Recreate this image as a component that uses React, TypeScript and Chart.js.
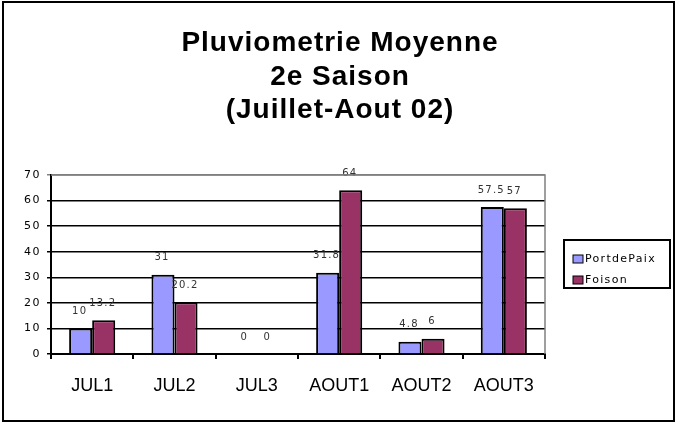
import React, { useEffect, useRef } from "react";
import { Chart, registerables } from "chart.js";

Chart.register(...registerables);

const categories = ["JUL1", "JUL2", "JUL3", "AOUT1", "AOUT2", "AOUT3"];
const portDePaix = [10, 31, 0, 31.8, 4.8, 57.5];
const foison = [13.2, 20.2, 0, 64, 6, 57];
const seriesNames = ["PortdePaix", "Foison"];
const seriesColors = ["#9999FF", "#993366"];
const titleLines = ["Pluviometrie Moyenne", "2e Saison", "(Juillet-Aout 02)"];
const yMax = 70;
const yStep = 10;

const customPlugin = {
  id: "custom",
  beforeDraw(chart: any) {
    const ctx = chart.ctx;
    ctx.save();
    ctx.fillStyle = "#fff";
    ctx.fillRect(0, 0, chart.width, chart.height);
    ctx.restore();
    (ctx as any).letterSpacing = "1.5px";
  },
  beforeDatasetsDraw(chart: any) {
    (chart.ctx as any).letterSpacing = "0px";
  },
  afterDatasetsDraw(chart: any) {
    const ctx = chart.ctx;
    ctx.save();
    (ctx as any).letterSpacing = "1.2px";
    ctx.font = '10px "DejaVu Sans"';
    ctx.fillStyle = "#333";
    ctx.textAlign = "center";
    ctx.textBaseline = "middle";
    chart.data.datasets.forEach((ds: any, di: number) => {
      const meta = chart.getDatasetMeta(di);
      meta.data.forEach((el: any, i: number) => {
        ctx.fillText(String(ds.data[i]), el.x - 1, el.y - 17);
      });
    });
    (ctx as any).letterSpacing = "0px";
    ctx.restore();
  },
  afterDraw(chart: any) {
    const ctx = chart.ctx;
    const a = chart.chartArea;
    ctx.save();
    (ctx as any).letterSpacing = "0px";
    // plot area gray border top/right
    ctx.strokeStyle = "#808080";
    ctx.lineWidth = 1.5;
    ctx.beginPath();
    ctx.moveTo(a.left, a.top);
    ctx.lineTo(a.right, a.top);
    ctx.lineTo(a.right, a.bottom);
    ctx.stroke();

    // title
    ctx.fillStyle = "#000";
    ctx.font = 'bold 28px "Liberation Sans"';
    (ctx as any).letterSpacing = "1px";
    ctx.textAlign = "center";
    ctx.textBaseline = "alphabetic";
    const baselines = [51, 85, 118];
    titleLines.forEach((t, i) => ctx.fillText(t, 340, baselines[i]));

    // legend
    (ctx as any).letterSpacing = "1.3px";
    ctx.lineWidth = 2;
    ctx.strokeStyle = "#000";
    ctx.strokeRect(564, 240, 106, 48);
    ctx.font = '11px "DejaVu Sans"';
    ctx.textAlign = "left";
    chart.data.datasets.forEach((ds: any, i: number) => {
      const y = 255 + i * 21;
      ctx.fillStyle = ds.backgroundColor;
      ctx.fillRect(573, y, 10, 8);
      ctx.lineWidth = 1;
      ctx.strokeRect(573, y, 10, 8);
      ctx.fillStyle = "#000";
      ctx.fillText(ds.label, 585, y + 7);
    });

    // outer border
    (ctx as any).letterSpacing = "0px";
    ctx.lineWidth = 2;
    ctx.strokeStyle = "#000";
    ctx.strokeRect(3, 2, 671, 419);
    ctx.restore();
  },
};

export default function App() {
  const ref = useRef<HTMLCanvasElement | null>(null);
  useEffect(() => {
    document.body.style.margin = "0";
    const canvas = ref.current!;
    const chart = new Chart(canvas, {
      type: "bar",
      data: {
        labels: categories,
        datasets: [
          {
            label: seriesNames[0],
            data: portDePaix,
            backgroundColor: seriesColors[0],
            borderColor: "#000",
            borderWidth: 2,
            categoryPercentage: 0.56,
            barPercentage: 1,
          },
          {
            label: seriesNames[1],
            data: foison,
            backgroundColor: seriesColors[1],
            borderColor: "#000",
            borderWidth: 2,
            categoryPercentage: 0.56,
            barPercentage: 1,
          },
        ],
      },
      options: {
        responsive: false,
        animation: false,
        devicePixelRatio: 1,
        layout: { padding: { left: 0, top: 175, right: 131, bottom: 0 } },
        plugins: {
          legend: { display: false },
          title: { display: false },
          tooltip: { enabled: false },
        },
        scales: {
          x: {
            grid: {
              display: true,
              drawOnChartArea: false,
              drawTicks: true,
              tickLength: 5,
              color: "#000",
              lineWidth: 2,
              offset: true,
            },
            border: { color: "#000", width: 2 },
            ticks: {
              color: "#000",
              font: { family: "Liberation Sans", size: 18 },
              padding: 16,
              z: 1,
            },
            afterFit: (s: any) => {
              s.height = 69;
            },
          },
          y: {
            min: 0,
            max: yMax,
            grid: {
              color: (c: any) => (c.tick && c.tick.value === yMax ? "#808080" : "#000"),
              lineWidth: 1.5,
              tickLength: 4,
            },
            border: { color: "#000", width: 2 },
            ticks: {
              stepSize: yStep,
              color: "#000",
              font: { family: "DejaVu Sans", size: 11 },
              padding: 6,
            },
            afterFit: (s: any) => {
              s.width = 51;
            },
          },
        },
      },
      plugins: [customPlugin],
    } as any);
    return () => chart.destroy();
  }, []);
  return <canvas ref={ref} width={676} height={423} style={{ display: "block" }} />;
}
